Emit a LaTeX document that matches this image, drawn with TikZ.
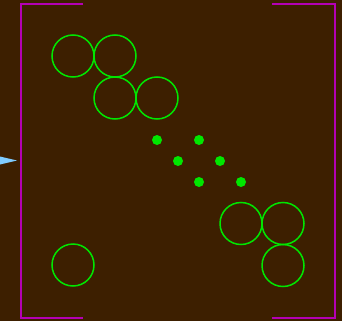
\documentclass[tikz,border=0pt]{standalone}
\usepackage{tikz}
\usetikzlibrary{positioning}
\definecolor{FieldBrown}{RGB}{61, 31, 0}
\definecolor{WallMagenta}{RGB}{180, 0, 180}
\definecolor{BallGreen}{RGB}{0, 230, 0}
\definecolor{PlayerBlue}{RGB}{128, 204, 255}

\begin{document}
\begin{tikzpicture}[x=1pt, y=-1pt,
      ring/.style={circle, draw=BallGreen, line width=1.5pt, minimum size=42pt, inner sep=0pt, outer sep=0pt},
      dot/.style={circle, fill=BallGreen, minimum size=10pt, inner sep=0pt},
      wall/.style={draw=WallMagenta, line width=1.6pt}
    ]
      \fill[FieldBrown] (0,0) rectangle (342,321);

      \draw[wall] (83,4) -- (21,4) -- (21,318) -- (83,318);
      \draw[wall] (272,4) -- (335,4) -- (335,318) -- (272,318);

      \fill[PlayerBlue] (0,156.5) -- (17,160.5) -- (0,164.5) -- cycle;

      \node[ring] (c1) at (73,56) {};
      \node[ring, right=0pt of c1] (c2) {};
      \node[ring, below=0pt of c2] (c3) {};
      \node[ring, right=0pt of c3] (c4) {};

      \node[ring] (c5) at (241,223.5) {};
      \node[ring, right=0pt of c5] (c6) {};
      \node[ring, below=0pt of c6] (c7) {};
      \node[ring] (c8) at (73,265) {};

      \foreach \x/\y [count=\i] in {157/140, 199/140, 178/161, 220/161, 199/182, 241/182}
        \node[dot] (d\i) at (\x,\y) {};
    \end{tikzpicture}
\end{document}
